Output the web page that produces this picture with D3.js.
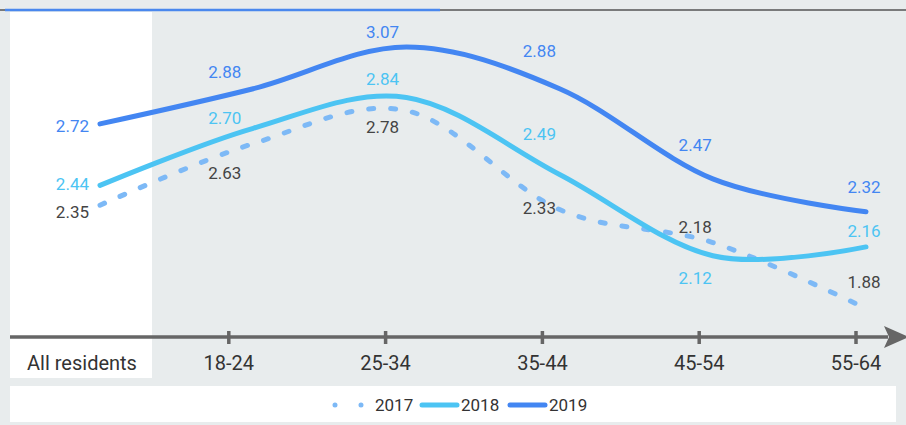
<!DOCTYPE html>
<html>
<head>
<meta charset="utf-8">
<script src="https://cdn.jsdelivr.net/npm/d3@7"></script>
<style>
  body { margin: 0; background: #e8eced; }
  svg { display: block; font-family: Roboto, "Noto Sans", sans-serif; }
</style>
</head>
<body>
<svg id="chart" width="906" height="425"></svg>
<script>
const categories = ["All residents", "18-24", "25-34", "35-44", "45-54", "55-64"];
const years = ["2017", "2018", "2019"];
const values2017 = [2.35, 2.63, 2.78, 2.33, 2.18, 1.88];
const values2018 = [2.44, 2.70, 2.84, 2.49, 2.12, 2.16];
const values2019 = [2.72, 2.88, 3.07, 2.88, 2.47, 2.32];

// vertical nudge of each value label from its point (px)
const labelDy2017 = [13, 35, 22, 4, -10, -20];
const labelDy2018 = [5, -4, -13, -34, 28, -10];
const labelDy2019 = [8, -11, -9, -32, -28, -19];
// horizontal nudge of the value labels from each tick (px)
const labelDx = [0, -4, -3, -3, -4, 8];

const series = [
  { year: "2017", values: values2017, dy: labelDy2017, color: "#7db9f6", label: "#444", dash: "5 17" },
  { year: "2018", values: values2018, dy: labelDy2018, color: "#4cc4f3", label: "#4cc4f3", dash: null },
  { year: "2019", values: values2019, dy: labelDy2019, color: "#4386f2", label: "#4386f2", dash: null }
];

const svg = d3.select("#chart");

// top rule
svg.append("line").attr("x1", 0).attr("x2", 906).attr("y1", 10).attr("y2", 10)
  .attr("stroke", "#555").attr("stroke-width", 1.5);
svg.append("line").attr("x1", 5).attr("x2", 440).attr("y1", 10).attr("y2", 10)
  .attr("stroke", "#4a88ee").attr("stroke-width", 2.5);

// white panel behind the "All residents" column
svg.append("rect").attr("x", 10).attr("y", 12).attr("width", 142).attr("height", 366).attr("fill", "#fff");

// legend box
svg.append("rect").attr("x", 10).attr("y", 386).attr("width", 886).attr("height", 36).attr("fill", "#fff");

// points and ticks don't share spacing in the original
const x = d3.scalePoint().domain(categories).range([100, 866]);
const xTick = d3.scalePoint().domain(categories).range([72, 856]);
const y = d3.scaleLinear().domain([1.75, 3.07]).range([337, 47]);

// axis with arrow
svg.append("line").attr("x1", 10).attr("x2", 888).attr("y1", 337).attr("y2", 337)
  .attr("stroke", "#666").attr("stroke-width", 3.5);
svg.append("path").attr("d", "M884,326 L909,337 L884,348 L889,337 Z").attr("fill", "#666");

svg.selectAll(".tick").data(categories.slice(1)).join("line")
  .attr("class", "tick")
  .attr("x1", d => xTick(d)).attr("x2", d => xTick(d))
  .attr("y1", 331).attr("y2", 344)
  .attr("stroke", "#666").attr("stroke-width", 3.5);

svg.selectAll(".cat").data(categories).join("text")
  .attr("class", "cat")
  .attr("x", (d, i) => i === 0 ? 82 : xTick(d))
  .attr("y", 370)
  .attr("text-anchor", "middle")
  .attr("font-size", 20).attr("fill", "#333")
  .text(d => d);

const line = d3.line()
  .x((d, i) => x(categories[i]))
  .y(d => y(d))
  .curve(d3.curveCatmullRom.alpha(0));

svg.selectAll(".series").data(series).join("path")
  .attr("class", "series")
  .attr("d", d => line(d.values))
  .attr("fill", "none")
  .attr("stroke", d => d.color)
  .attr("stroke-width", 5)
  .attr("stroke-linecap", "round")
  .attr("stroke-dasharray", d => d.dash);

series.forEach(s => {
  svg.append("g").selectAll("text").data(s.values).join("text")
    .attr("x", (d, i) => i === 0 ? 89 : xTick(categories[i]) + labelDx[i])
    .attr("y", (d, i) => y(d) + s.dy[i])
    .attr("text-anchor", (d, i) => i === 0 ? "end" : "middle")
    .attr("font-size", 17)
    .attr("fill", s.label)
    .text(d => d.toFixed(2));
});

// legend
const legend = svg.append("g").attr("transform", "translate(335,405)");
const legendX = d3.scalePoint().domain(years).range([0, 176]);
const items = legend.selectAll("g").data(series).join("g")
  .attr("transform", d => `translate(${legendX(d.year)},0)`);
items.append("line")
  .attr("x1", d => d.dash ? 0 : -1).attr("x2", d => d.dash ? 28 : 34).attr("y1", 0).attr("y2", 0)
  .attr("stroke", d => d.color).attr("stroke-width", 5).attr("stroke-linecap", "round")
  .attr("stroke-dasharray", d => d.dash ? "0 26" : null);
items.append("text")
  .attr("x", d => d.dash ? 40 : 38).attr("y", 6)
  .attr("font-size", 17).attr("fill", "#333")
  .text(d => d.year);
</script>
</body>
</html>
